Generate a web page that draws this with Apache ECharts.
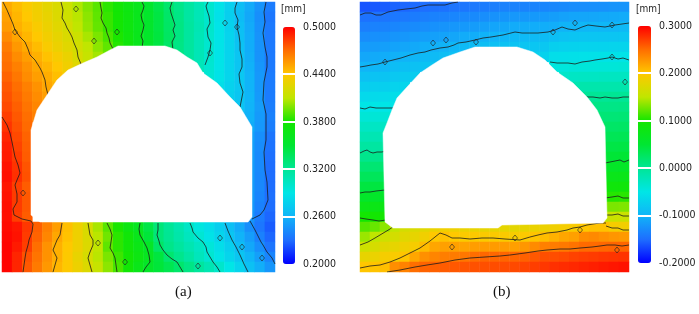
<!DOCTYPE html>
<html>
<head>
<meta charset="utf-8">
<script src="https://cdn.jsdelivr.net/npm/echarts@6/dist/echarts.min.js"></script>
<style>
html, body { margin: 0; background: #fff; }
#chart { width: 699px; height: 314px; }
</style>
</head>
<body>
<div id="chart"></div>
<script>
(function () {

	var _ = null; // cell inside the tunnel opening

	// (a) displacement, unit 0.01 mm, 27 x 27 cells, row 0 at the top
	var dispA = [
		[45,44.4,43.8,43.3,42.7,42.2,41.5,40.7,39.9,39.2,38.4,37.7,37,36.3,35.3,34.3,33.3,32.4,31.6,30.8,29.9,28.8,27.7,26.6,25.6,24.6,23.6],
		[45.3,44.6,44,43.4,42.9,42.3,41.6,40.9,40.1,39.3,38.6,37.8,37.1,36.3,35.4,34.5,33.4,32.5,31.6,30.8,29.9,28.7,27.6,26.5,25.5,24.4,23.4],
		[45.5,44.8,44.3,43.7,43.1,42.5,41.9,41,40.2,39.4,38.6,37.8,37.1,36.3,35.4,34.5,33.5,32.6,31.7,30.9,30,28.9,27.8,26.7,25.6,24.5,23.5],
		[46,45.2,44.6,44,43.4,42.8,42.2,41.5,40.6,39.8,38.9,38.1,37.2,36.4,35.5,34.6,33.6,32.6,31.7,30.8,29.9,28.9,27.9,26.8,25.7,24.6,23.5],
		[46.5,45.6,45,44.4,43.7,43.1,42.5,41.8,41,40.1,39.3,38.3,37.4,36.4,35.4,34.5,33.4,32.5,31.7,30.8,29.9,28.9,27.9,26.9,25.7,24.6,23.5],
		[46.8,46,45.4,44.8,44.2,43.6,43,42.1,41.3,40.5,39.6, _,_,_,_,_,_, 32.6,31.7,30.8,29.9,28.9,27.9,27,25.8,24.6,23.5],
		[47,46.4,45.8,45.1,44.6,44,43.3,42.5,41.8, _,_,_,_,_,_,_,_,_,_, 30.7,29.8,28.9,27.9,27,25.9,24.7,23.5],
		[47.3,46.7,46,45.4,44.9,44.3,43.6, _,_,_,_,_,_,_,_,_,_,_,_,_, 29.7,28.8,28,27.2,26,24.8,23.6],
		[47.6,47,46.4,45.8,45.1,44.6, _,_,_,_,_,_,_,_,_,_,_,_,_,_,_, 28.6,27.8,27.2,26,24.8,23.6],
		[47.8,47.2,46.6,46,45.4, _,_,_,_,_,_,_,_,_,_,_,_,_,_,_,_,_, 27.7,27.1,26.1,24.9,23.6],
		[48,47.4,46.8,46.2, _,_,_,_,_,_,_,_,_,_,_,_,_,_,_,_,_,_,_, 27,26,25,23.7],
		[48.3,47.6,47,46.4, _,_,_,_,_,_,_,_,_,_,_,_,_,_,_,_,_,_,_, 26.6,25.9,24.9,23.8],
		[48.6,47.8,47.1, _,_,_,_,_,_,_,_,_,_,_,_,_,_,_,_,_,_,_,_,_, 25.7,24.8,23.7],
		[49,48,47.3, _,_,_,_,_,_,_,_,_,_,_,_,_,_,_,_,_,_,_,_,_, 25.3,24.4,23.3],
		[49.2,48.2,47.4, _,_,_,_,_,_,_,_,_,_,_,_,_,_,_,_,_,_,_,_,_, 25.2,24.3,23.2],
		[49.3,48.4,47.5, _,_,_,_,_,_,_,_,_,_,_,_,_,_,_,_,_,_,_,_,_, 25.2,24.2,23.1],
		[49.5,48.6,47.7, _,_,_,_,_,_,_,_,_,_,_,_,_,_,_,_,_,_,_,_,_, 25.1,24.2,23],
		[49.6,48.7,47.8, _,_,_,_,_,_,_,_,_,_,_,_,_,_,_,_,_,_,_,_,_, 25.1,24.1,23],
		[49.4,48.3,47.5, _,_,_,_,_,_,_,_,_,_,_,_,_,_,_,_,_,_,_,_,_, 25,24.1,23],
		[49.5,48.4,47.6, _,_,_,_,_,_,_,_,_,_,_,_,_,_,_,_,_,_,_,_,_, 25,24,23.1],
		[49.6,48.4,47.6, _,_,_,_,_,_,_,_,_,_,_,_,_,_,_,_,_,_,_,_,_, 24.9,23.8,23],
		[49.6,48.3,47.5, _,_,_,_,_,_,_,_,_,_,_,_,_,_,_,_,_,_,_,_,_, 24.7,23.6,22.8],
		[49.7,49.4,48.5,47.4,46.4,45.4,44.3,43.2,42.1,40.6,39.2,38.1,37,36,34.4,32.9,32,31.1,30.2,29.3,28.5,27.6,26.7,25.6,24.4,23.4,22.5],
		[49.8,49.5,48.4,47.3,46.2,45.1,44.2,43.2,42.2,40.9,39.6,38.4,37.5,36.4,34.8,32.9,32.1,31.3,30.5,29.7,28.8,28,27.1,26,25,23.8,22.8],
		[49.9,49.3,48.3,47,45.8,44.8,44,43.2,42.3,41,39.3,38.4,37.6,36.7,35.7,33.5,32.4,31.7,31,30.3,29.5,28.5,27.6,26.6,25.5,24.4,23.3],
		[49.9,49,47.8,46.8,45.8,44.8,43.9,42.9,42,40.9,39.8,38.7,37.8,36.9,36,34.6,33.2,32.3,31.5,30.6,29.8,28.9,28,27.1,26.1,25.1,24],
		[49.9,49,47.6,46.6,45.6,44.6,43.9,43.1,42.3,41.3,40.1,38.9,37.7,36.5,35.6,34.8,34.1,33.3,32.5,31.7,30.9,30,29,27.9,26.8,25.8,24.7]
	];

	// (b) displacement, unit 0.01 mm
	var dispB = [
		[-16.2,-16,-15.8,-15.5,-15.3,-15.1,-14.9,-14.8,-14.7,-14.5,-14.4,-14.2,-14,-13.8,-13.6,-13.5,-13.5,-13.4,-13.3,-13.2,-13,-12.8,-12.7,-12.6,-12.5,-12.3,-12.2],
		[-14.7,-14.6,-14.5,-14.3,-14.2,-14,-13.8,-13.6,-13.5,-13.3,-13.1,-13,-12.7,-12.4,-12.2,-12,-12,-11.9,-11.8,-11.6,-11.3,-11.1,-11,-10.9,-10.8,-10.7,-10.6],
		[-13.8,-13.6,-13.5,-13.3,-13.1,-12.9,-12.7,-12.5,-12.3,-12.1,-11.9,-11.7,-11.4,-11.1,-10.9,-10.6,-10.6,-10.5,-10.4,-10.4,-10,-9.9,-9.7,-9.7,-9.7,-9.7,-9.5],
		[-12.8,-12.6,-12.5,-12.2,-12.1,-11.8,-11.6,-11.4,-11.2,-11,-10.6,-10.4,-10.1,-9.9,-9.7,-9.5,-9.4,-9.3,-9.2,-8.9,-8.6,-8.4,-8.3,-8.3,-8.3,-8.3,-8.2],
		[-11.8,-11.7,-11.5,-11.2,-11,-10.8,-10.4,-10.2,-10,-9.7,-9.4,-9.2,-9,-8.8,-8.6,-8.5,-8.3,-8.2,-8.1,-7.3,-7.1,-7,-6.9,-6.9,-6.9,-6.8,-6.8],
		[-10.9,-10.7,-10.5,-10.2,-10,-9.8,-9.4,-9.3,-9,-8.8, _,_,_,_,_,_,_, -7.2,-7,-5.8,-5.7,-5.6,-5.5,-5.5,-5.4,-5.4,-5.3],
		[-9.9,-9.8,-9.6,-9.1,-8.9,-8.7,-8.5,-8.3, _,_,_,_,_,_,_,_,_,_,_, -4.5,-4.4,-4.2,-4.2,-4.2,-4.1,-4.1,-4],
		[-8.7,-8.5,-8.4,-8,-7.8,-7.6, _,_,_,_,_,_,_,_,_,_,_,_,_,_, -3.2,-2.9,-2.8,-2.8,-2.7,-2.7,-2.7],
		[-7.5,-7.3,-7.3,-6.9,-6.7, _,_,_,_,_,_,_,_,_,_,_,_,_,_,_,_, -1.6,-1.4,-1.4,-1.4,-1.4,-1.4],
		[-6.3,-6.2,-6.1,-5.8,-5.6, _,_,_,_,_,_,_,_,_,_,_,_,_,_,_,_,_, -0.1,0,0,0.1,0],
		[-5.1,-5,-5,-5.2, _,_,_,_,_,_,_,_,_,_,_,_,_,_,_,_,_,_,_, 0.8,0.8,0.8,0.9],
		[-4,-4,-4,-4.2, _,_,_,_,_,_,_,_,_,_,_,_,_,_,_,_,_,_,_, 1.5,1.6,1.6,1.7],
		[-2.9,-2.9,-2.9, _,_,_,_,_,_,_,_,_,_,_,_,_,_,_,_,_,_,_,_,_, 2.4,2.4,2.5],
		[-1.8,-1.8,-1.8, _,_,_,_,_,_,_,_,_,_,_,_,_,_,_,_,_,_,_,_,_, 3.2,3.2,3.3],
		[-0.7,-0.7,-0.7, _,_,_,_,_,_,_,_,_,_,_,_,_,_,_,_,_,_,_,_,_, 4,4,4.1],
		[0.5,0.5,0.5, _,_,_,_,_,_,_,_,_,_,_,_,_,_,_,_,_,_,_,_,_, 4.8,4.8,4.9],
		[1.8,1.8,1.8, _,_,_,_,_,_,_,_,_,_,_,_,_,_,_,_,_,_,_,_,_, 6,6,6.1],
		[3,3,3, _,_,_,_,_,_,_,_,_,_,_,_,_,_,_,_,_,_,_,_,_, 7.4,7.4,7.5],
		[4.3,4.3,4.3, _,_,_,_,_,_,_,_,_,_,_,_,_,_,_,_,_,_,_,_,_, 8.9,8.9,9],
		[5.8,5.8,5.8, _,_,_,_,_,_,_,_,_,_,_,_,_,_,_,_,_,_,_,_,_, 10.5,10.5,10.6],
		[7.8,7.8,7.8, _,_,_,_,_,_,_,_,_,_,_,_,_,_,_,_,_,_,_,_,_, 13,13,13.1],
		[9.8,9.8,9.8, _,_,_,_,_,_,_,_,_,_,_,_,_,_,_,_,_,_,_,_,_, 15.4,15.7,15.8],
		[11.9,12.4,13.5,15,16.5,17,17.5,18.3,18.8,18.6,18.3,18.2,18,18,17.9,17.8,18,18.3,18.5,18.8,19.2,19.6,20.1,20.4,20.4,19.3,19],
		[13.9,15,16,16.5,17.5,18,18.8,20,20.4,20,19.7,19.8,19.7,19.7,19.6,19.4,19.8,20.2,20.6,21.3,21.9,22.2,23.3,23.5,23.1,22.8,22.6],
		[16,16.7,17.6,18,18.7,19.3,20.7,21.9,22.2,22.2,22.1,22.4,22.5,22.5,22.5,22.3,22.7,23.4,24,24.2,24.4,24.7,25.2,25.2,25.3,25.4,25.4],
		[18.1,18.4,19.2,19.5,20.2,21.9,23.1,23.7,24.1,24.3,24.5,25,25.3,25.3,25.4,25.4,25.6,26,26.4,26.5,26.7,27,27.2,27.3,27.5,27.6,27.7],
		[20.1,20.2,20.5,23.2,23.9,25,25.5,25.6,25.8,26,26.2,26.3,26.4,26.5,26.6,26.7,26.9,27.2,27.5,27.8,28,28.2,28.4,28.6,28.8,29,29.2]
	];

	// colour bar ranges and tick labels
	var rangeA = [20, 50];
	var rangeB = [-20, 30];
	var ticksA = ['0.2000', '0.2600', '0.3200', '0.3800', '0.4400', '0.5000'];
	var ticksB = ['-0.2000', '-0.1000', '0.0000', '0.1000', '0.2000', '0.3000'];
	var palette = ['#0000ff', '#1e6eff', '#10b4f8', '#00e6e6', '#00e696', '#00e632',
		'#14e600', '#c0e600', '#ffc800', '#ff6e00', '#ff0000'];

	// model extent of each panel (x, y), y grows downwards
	var extentA = [273, 270];
	var extentB = [269, 270];

	// tunnel opening outlines
	var holeA = [[116,44],[163,44],[175,48],[185,55],[195,61],[201,71],[215,81],[228,95],[238,105],[250,125],
		[250,215],[246,220],[38,220],[29,213],[29,128],[35,108],[45,93],[55,78],[66,68],[81,61],[95,55],[108,48]];
	var holeB = [[115,45],[157,45],[173,50],[185,58],[197,70],[213,81],[227,95],[237,108],[245,125],[247,216],
		[243,221],[142,223],[138,226],[33,226],[25,220],[23,131],[27,121],[32,108],[37,96],[47,85],[60,71],
		[72,63],[83,56],[100,50]];

	// contour lines of (a)
	var contoursA = [
		[[1,0],[5,8],[8,15],[11,22],[13,28],[18,35],[23,40],[26,47],[28,53],[33,58],[35,60],[38,66],[40,70],[43,78],[44,85],[46,93]],
		[[59,0],[61,8],[60,16],[63,21],[65,26],[68,31],[70,35],[72,41],[75,48],[76,55],[79,62]],
		[[98,0],[99,6],[100,11],[99,16],[101,21],[104,26],[105,31],[107,36],[108,41],[111,47]],
		[[140,0],[142,4],[141,8],[139,13],[140,18],[142,23],[141,28],[139,34],[141,39],[140,46]],
		[[170,0],[168,6],[169,11],[171,17],[173,23],[171,28],[173,34],[170,40],[171,48]],
		[[206,0],[204,4],[205,8],[207,14],[208,21],[205,27],[206,35],[209,41],[208,48],[206,55],[203,63]],
		[[235,0],[233,6],[233,11],[236,18],[235,25],[237,33],[238,41],[238,48],[240,57],[240,65],[237,72],[238,81],[241,90],[238,105]],
		[[264,0],[262,10],[263,20],[261,31],[263,45],[265,55],[265,65],[262,80],[261,98],[264,112],[264,125],[264,138],[262,150],[263,168],[265,180],[266,198],[262,208],[258,213],[250,217]],
		[[248,219],[253,228],[255,232],[259,240],[261,243],[265,250],[270,256],[273,262]],
		[[0,115],[5,123],[8,131],[10,140],[13,155],[16,163],[18,171],[15,178],[13,183],[15,192],[15,200],[11,207],[12,213],[20,217],[29,219],[31,222],[30,230],[27,238],[26,243],[24,250],[23,256],[22,263],[21,270]],
		[[60,221],[59,227],[58,233],[55,238],[53,243],[51,248],[53,252],[55,256],[53,263],[51,270]],
		[[86,221],[87,227],[88,233],[91,238],[91,243],[88,250],[86,256],[88,263],[90,270]],
		[[105,221],[108,227],[110,233],[109,240],[108,246],[111,251],[113,256],[114,263],[115,270]],
		[[138,221],[137,227],[138,233],[142,240],[145,246],[147,253],[148,260],[144,265],[141,270]],
		[[156,221],[156,228],[155,233],[157,239],[158,243],[161,248],[165,253],[170,257],[175,260],[178,265],[181,270]],
		[[188,221],[190,226],[191,230],[196,236],[201,240],[204,245],[205,250],[208,255],[211,260],[215,265],[218,270]],
		[[223,221],[226,229],[230,238],[234,245],[238,253],[242,262],[246,270]]
	];

	// contour lines of (b)
	var contoursB = [
		[[0,13],[5,11],[11,11],[16,13],[21,13],[28,10],[38,8],[46,7],[55,6],[62,4],[68,3],[76,3],[85,3],[92,1],[98,0]],
		[[0,65],[6,64],[11,63],[18,62],[25,60],[33,58],[41,56],[50,53],[58,51],[65,50],[71,48],[80,46],[88,45],[94,43],[98,41],[106,40],[115,38],[123,36],[131,35],[143,33],[155,30],[162,31],[168,31],[178,31],[188,30],[195,28],[202,25],[208,27],[215,28],[222,25],[228,23],[236,24],[245,25],[250,24],[255,23],[262,22],[269,21]],
		[[0,106],[5,107],[10,105],[16,106],[24,106],[33,106]],
		[[190,60],[197,61],[208,61],[215,62],[222,60],[230,59],[235,58],[242,57],[248,56],[252,55],[258,57],[263,56],[269,58]],
		[[0,151],[4,149],[7,148],[10,150],[13,151],[17,150],[22,150],[25,149]],
		[[225,95],[233,95],[240,96],[245,95],[252,96],[258,96],[263,95],[269,95]],
		[[0,191],[5,190],[10,190],[16,189],[25,188]],
		[[245,161],[250,160],[255,159],[260,158],[264,160],[269,158]],
		[[0,216],[6,217],[13,218],[19,219],[26,218]],
		[[245,196],[252,195],[258,194],[263,196],[269,196]],
		[[0,243],[8,240],[15,236],[20,233],[25,230],[30,227],[34,224]],
		[[245,213],[252,213],[258,212],[263,214],[269,214]],
		[[0,266],[10,264],[20,263],[30,260],[40,256],[50,251],[60,246],[70,239],[80,231],[86,233],[92,236],[100,236],[110,237],[122,236],[133,236],[145,237],[160,238],[170,235],[178,233],[187,231],[197,230],[207,228],[213,226],[220,225],[227,223],[233,222],[240,221],[246,221]],
		[[246,224],[252,226],[258,226],[263,228],[269,228]],
		[[27,270],[40,268],[55,265],[67,263],[80,261],[95,258],[110,256],[125,255],[140,254],[150,253],[165,251],[178,249],[187,248],[200,247],[210,247],[220,246],[232,245],[240,244],[247,243],[255,243],[262,244],[269,243]]
	];

	// small closed contour loops
	var loopsA = [[74,7],[92,39],[115,30],[208,51],[223,21],[235,25],[13,30],[21,191],[96,241],[123,260],
		[218,236],[196,264],[240,245],[260,256]];
	var loopsB = [[86,38],[116,40],[25,60],[73,41],[193,30],[215,21],[252,23],[252,55],[265,80],[92,245],
		[155,236],[220,228],[257,248]];

	var labelFont = '"Liberation Sans Narrow", "DejaVu Sans Condensed", "Liberation Sans", Arial, sans-serif';

	function cells(rows) {
		var out = [];
		rows.forEach(function (row, r) {
			row.forEach(function (v, c) {
				if (v !== null) out.push([c, r, v]);
			});
		});
		return out;
	}

	function index(n) {
		var a = [];
		for (var i = 0; i < n; i++) a.push(i);
		return a;
	}

	function contourSeries(lines, axis) {
		return lines.map(function (line) {
			return {
				type: 'line',
				xAxisIndex: axis,
				yAxisIndex: axis,
				data: line,
				symbol: 'none',
				silent: true,
				z: 3,
				lineStyle: { color: '#1c1c1c', width: 0.8 }
			};
		});
	}

	function loopSeries(points, axis) {
		return {
			type: 'scatter',
			xAxisIndex: axis,
			yAxisIndex: axis,
			data: points,
			symbol: 'diamond',
			symbolSize: [5, 6],
			silent: true,
			z: 3,
			itemStyle: { color: 'rgba(0,0,0,0)', borderColor: '#222', borderWidth: 0.8 }
		};
	}

	function holeSeries(hole, axis) {
		return {
			type: 'custom',
			xAxisIndex: axis,
			yAxisIndex: axis,
			data: hole,
			silent: true,
			z: 5,
			renderItem: function (params, api) {
				if (params.dataIndex !== 0) return;
				return {
					type: 'polygon',
					shape: { points: hole.map(function (p) { return api.coord(p); }) },
					style: { fill: '#fff', stroke: '#fff', lineWidth: 0.5 }
				};
			}
		};
	}

	// white separators across the colour bar at the inner ticks
	function separatorSeries(ticks, axis) {
		var marks = [];
		for (var i = 1; i < ticks.length - 1; i++) marks.push([0, i]);
		return {
			type: 'custom',
			xAxisIndex: axis,
			yAxisIndex: axis,
			data: marks,
			silent: true,
			z: 20,
			renderItem: function (params, api) {
				var y = Math.round(api.coord([0, api.value(1)])[1]);
				var cs = params.coordSys;
				return {
					type: 'line',
					shape: { x1: cs.x - 1, y1: y, x2: cs.x + cs.width + 1, y2: y },
					style: { stroke: '#ffffff', lineWidth: 2 }
				};
			}
		};
	}

	function barAxis(grid, ticks) {
		return {
			gridIndex: grid,
			type: 'category',
			data: ticks,
			boundaryGap: false,
			position: 'right',
			axisLine: { show: false },
			axisTick: { show: false },
			axisLabel: {
				color: '#222', fontSize: 10.5, fontFamily: labelFont, margin: 8,
				verticalAlignMinLabel: 'middle', verticalAlignMaxLabel: 'middle'
			},
			splitLine: { show: false }
		};
	}

	var chart = echarts.init(document.getElementById('chart'));

	chart.setOption({
		animation: false,
		title: [
			{ text: '[mm]', left: 281, top: 4, padding: 0,
				textStyle: { fontSize: 10, fontWeight: 'normal', color: '#222', fontFamily: labelFont } },
			{ text: '[mm]', left: 636, top: 4, padding: 0,
				textStyle: { fontSize: 10, fontWeight: 'normal', color: '#222', fontFamily: labelFont } },
			{ text: '(a)', left: 175, top: 285, padding: 0,
				textStyle: { fontSize: 15, fontWeight: 'normal', color: '#111', fontFamily: '"Liberation Serif", serif' } },
			{ text: '(b)', left: 493, top: 285, padding: 0,
				textStyle: { fontSize: 15, fontWeight: 'normal', color: '#111', fontFamily: '"Liberation Serif", serif' } }
		],
		grid: [
			{ left: 2, top: 2, width: 273, height: 270 },
			{ left: 360, top: 2, width: 269, height: 270 },
			{ left: 283, top: 27, width: 12, height: 237 },
			{ left: 638, top: 26, width: 13, height: 237 }
		],
		xAxis: [
			{ gridIndex: 0, type: 'category', data: index(dispA[0].length), show: false },
			{ gridIndex: 0, type: 'value', min: 0, max: extentA[0], show: false },
			{ gridIndex: 1, type: 'category', data: index(dispB[0].length), show: false },
			{ gridIndex: 1, type: 'value', min: 0, max: extentB[0], show: false },
			{ gridIndex: 2, type: 'category', data: [''], show: false },
			{ gridIndex: 3, type: 'category', data: [''], show: false }
		],
		yAxis: [
			{ gridIndex: 0, type: 'category', data: index(dispA.length), inverse: true, show: false },
			{ gridIndex: 0, type: 'value', min: 0, max: extentA[1], inverse: true, show: false },
			{ gridIndex: 1, type: 'category', data: index(dispB.length), inverse: true, show: false },
			{ gridIndex: 1, type: 'value', min: 0, max: extentB[1], inverse: true, show: false },
			barAxis(2, ticksA),
			barAxis(3, ticksB)
		],
		visualMap: [
			{ type: 'continuous', seriesIndex: 0, min: rangeA[0], max: rangeA[1], calculable: false,
				hoverLink: false, left: 283, top: 27, itemWidth: 12, itemHeight: 237, padding: 0,
				inRange: { color: palette } },
			{ type: 'continuous', seriesIndex: 1, min: rangeB[0], max: rangeB[1], calculable: false,
				hoverLink: false, left: 638, top: 26, itemWidth: 13, itemHeight: 237, padding: 0,
				inRange: { color: palette } }
		],
		series: [
			{ type: 'heatmap', xAxisIndex: 0, yAxisIndex: 0, data: cells(dispA), silent: true, progressive: 0 },
			{ type: 'heatmap', xAxisIndex: 2, yAxisIndex: 2, data: cells(dispB), silent: true, progressive: 0 }
		].concat(
			contourSeries(contoursA, 1),
			contourSeries(contoursB, 3),
			[loopSeries(loopsA, 1), loopSeries(loopsB, 3)],
			[holeSeries(holeA, 1), holeSeries(holeB, 3)],
			[separatorSeries(ticksA, 4), separatorSeries(ticksB, 5)]
		)
	});
})();
</script>
</body>
</html>
